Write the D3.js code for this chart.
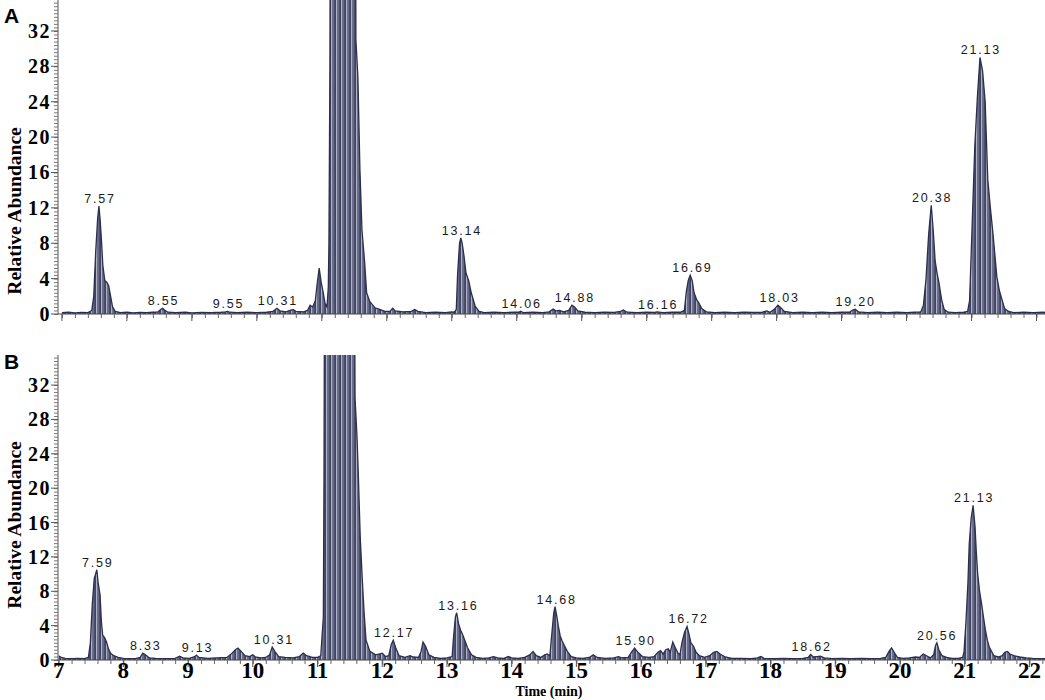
<!DOCTYPE html>
<html>
<head>
<meta charset="utf-8">
<script src="https://cdn.jsdelivr.net/npm/d3@7"></script>
<style>
  body { margin: 0; background: #fff; }
  svg { display: block; }
</style>
</head>
<body>
<div id="chart"></div>
<script>
const width = 1045
const height = 700

// retention time (min), relative abundance
const traceA = [
  [7.00, 0.15], [7.10, 0.2], [7.20, 0.12], [7.30, 0.18], [7.40, 0.15], [7.46, 0.4], [7.49, 2.0], [7.52, 7.0],
  [7.55, 10.8], [7.57, 12.2], [7.59, 10.5], [7.61, 8.2], [7.63, 5.5], [7.66, 3.8], [7.69, 3.6], [7.72, 3.2],
  [7.75, 2.0], [7.78, 0.8], [7.82, 0.3], [7.90, 0.15], [8.00, 0.2], [8.10, 0.12], [8.20, 0.18], [8.30, 0.15],
  [8.40, 0.2], [8.48, 0.25], [8.52, 0.5], [8.55, 0.65], [8.58, 0.45], [8.63, 0.2], [8.75, 0.15], [8.90, 0.2],
  [9.00, 0.12], [9.15, 0.18], [9.30, 0.15], [9.45, 0.2], [9.52, 0.25], [9.55, 0.3], [9.58, 0.2], [9.70, 0.15],
  [9.85, 0.2], [10.00, 0.15], [10.15, 0.2], [10.25, 0.3], [10.31, 0.65], [10.36, 0.35], [10.45, 0.25],
  [10.52, 0.45], [10.56, 0.5], [10.60, 0.3], [10.72, 0.25], [10.78, 0.4], [10.82, 1.0], [10.86, 0.8],
  [10.90, 1.5], [10.93, 3.5], [10.96, 5.2], [10.99, 3.6], [11.02, 2.5], [11.05, 1.2], [11.08, 0.8],
  [11.10, 3.0], [11.11, 8.0], [11.125, 28.0], [11.14, 80], [11.51, 80], [11.525, 31.0], [11.556, 26.7],
  [11.587, 16.3], [11.618, 9.5], [11.66, 5.8], [11.69, 2.4], [11.74, 1.4], [11.82, 0.7], [11.90, 0.5],
  [11.97, 0.3], [12.05, 0.3], [12.09, 0.65], [12.13, 0.35], [12.25, 0.25], [12.38, 0.3], [12.43, 0.5],
  [12.48, 0.3], [12.60, 0.15], [12.75, 0.2], [12.90, 0.15], [13.00, 0.25], [13.04, 0.2], [13.07, 0.5],
  [13.09, 4.5], [13.12, 8.0], [13.14, 8.6], [13.16, 8.0], [13.19, 6.5], [13.22, 4.6], [13.26, 3.8],
  [13.30, 2.4], [13.36, 0.9], [13.42, 0.3], [13.50, 0.15], [13.65, 0.2], [13.80, 0.15], [13.95, 0.2],
  [14.03, 0.2], [14.06, 0.3], [14.10, 0.15], [14.25, 0.2], [14.40, 0.15], [14.50, 0.25], [14.56, 0.55],
  [14.60, 0.35], [14.66, 0.4], [14.72, 0.25], [14.80, 0.4], [14.85, 1.0], [14.89, 0.8], [14.94, 0.35],
  [15.05, 0.2], [15.20, 0.15], [15.35, 0.2], [15.50, 0.18], [15.60, 0.3], [15.64, 0.45], [15.70, 0.2],
  [15.85, 0.15], [16.00, 0.2], [16.12, 0.18], [16.16, 0.25], [16.25, 0.15], [16.40, 0.2], [16.52, 0.2],
  [16.58, 0.4], [16.61, 2.5], [16.64, 3.8], [16.67, 4.4], [16.70, 3.8], [16.73, 2.4], [16.77, 1.6],
  [16.80, 1.3], [16.85, 0.6], [16.92, 0.25], [17.05, 0.15], [17.20, 0.2], [17.35, 0.15], [17.50, 0.2],
  [17.65, 0.18], [17.78, 0.2], [17.85, 0.35], [17.90, 0.2], [17.96, 0.5], [18.02, 1.0], [18.06, 0.75],
  [18.12, 0.3], [18.25, 0.15], [18.40, 0.2], [18.55, 0.15], [18.70, 0.2], [18.85, 0.15], [19.00, 0.2],
  [19.12, 0.2], [19.17, 0.45], [19.21, 0.55], [19.26, 0.25], [19.40, 0.15], [19.55, 0.2], [19.70, 0.15],
  [19.85, 0.2], [20.00, 0.15], [20.12, 0.2], [20.22, 0.25], [20.26, 1.0], [20.30, 4.0], [20.34, 9.0],
  [20.38, 12.3], [20.41, 9.5], [20.44, 6.0], [20.47, 4.6], [20.50, 3.5], [20.54, 1.6], [20.58, 0.5],
  [20.64, 0.2], [20.75, 0.15], [20.88, 0.2], [20.94, 0.3], [20.97, 1.5], [21.00, 8.0], [21.05, 18.9],
  [21.09, 24.5], [21.13, 29.0], [21.17, 27.5], [21.21, 24.0], [21.25, 15.2], [21.29, 12.0], [21.33, 9.1],
  [21.39, 4.2], [21.43, 2.6], [21.47, 1.6], [21.51, 0.6], [21.57, 0.3], [21.65, 0.15], [21.80, 0.2],
  [21.95, 0.15], [22.10, 0.2], [22.25, 0.15]
]

const traceB = [
  [7.00, 0.5], [7.04, 0.3], [7.10, 0.2], [7.20, 0.15], [7.30, 0.2], [7.40, 0.15], [7.46, 0.3], [7.49, 2.0],
  [7.52, 6.5], [7.55, 9.5], [7.57, 10.0], [7.59, 10.5], [7.61, 9.0], [7.64, 7.6], [7.66, 4.5], [7.68, 2.9],
  [7.71, 2.6], [7.74, 2.1], [7.77, 1.3], [7.80, 0.8], [7.85, 0.5], [7.92, 0.3], [8.00, 0.2], [8.10, 0.15],
  [8.20, 0.2], [8.26, 0.3], [8.30, 0.8], [8.34, 0.6], [8.40, 0.25], [8.50, 0.2], [8.65, 0.15], [8.80, 0.2],
  [8.87, 0.45], [8.92, 0.25], [9.02, 0.2], [9.09, 0.35], [9.13, 0.55], [9.17, 0.3], [9.30, 0.2], [9.45, 0.25],
  [9.60, 0.3], [9.68, 0.8], [9.73, 1.2], [9.77, 1.4], [9.82, 1.0], [9.88, 0.5], [9.95, 0.4], [10.00, 0.6],
  [10.04, 0.35], [10.12, 0.25], [10.20, 0.3], [10.26, 0.6], [10.30, 1.5], [10.34, 1.0], [10.40, 0.4],
  [10.50, 0.3], [10.62, 0.25], [10.72, 0.4], [10.78, 0.8], [10.83, 0.5], [10.92, 0.3], [11.00, 0.3],
  [11.05, 0.5], [11.09, 5.0], [11.10, 21.0], [11.12, 80], [11.55, 80], [11.58, 30.5], [11.61, 26.0],
  [11.63, 21.7], [11.66, 14.3], [11.69, 9.6], [11.72, 5.5], [11.75, 2.3], [11.81, 1.0], [11.90, 0.6],
  [11.96, 0.7], [12.00, 0.8], [12.05, 0.4], [12.10, 0.5], [12.14, 1.8], [12.17, 2.3], [12.21, 1.4],
  [12.26, 0.5], [12.35, 0.3], [12.43, 0.5], [12.48, 0.35], [12.56, 0.3], [12.60, 1.0], [12.63, 2.1],
  [12.67, 1.6], [12.72, 0.6], [12.80, 0.3], [12.90, 0.2], [13.00, 0.25], [13.08, 0.4], [13.10, 2.5],
  [13.13, 5.0], [13.15, 5.5], [13.18, 4.2], [13.21, 3.5], [13.24, 3.0], [13.28, 2.2], [13.32, 1.4],
  [13.38, 0.6], [13.45, 0.3], [13.55, 0.2], [13.65, 0.25], [13.72, 0.4], [13.78, 0.25], [13.88, 0.2],
  [13.95, 0.4], [14.00, 0.25], [14.10, 0.2], [14.20, 0.3], [14.28, 0.6], [14.33, 1.0], [14.38, 0.5],
  [14.45, 0.3], [14.51, 0.6], [14.55, 0.7], [14.59, 0.5], [14.62, 3.0], [14.65, 5.5], [14.67, 6.2],
  [14.70, 5.0], [14.72, 4.0], [14.75, 2.8], [14.78, 2.2], [14.82, 1.6], [14.86, 1.0], [14.92, 0.4],
  [15.00, 0.25], [15.10, 0.2], [15.20, 0.3], [15.26, 0.6], [15.32, 0.3], [15.45, 0.2], [15.58, 0.25],
  [15.65, 0.4], [15.70, 0.25], [15.80, 0.3], [15.86, 1.0], [15.90, 1.4], [15.95, 0.9], [16.02, 0.4],
  [16.12, 0.3], [16.20, 0.4], [16.26, 0.9], [16.30, 1.1], [16.34, 0.7], [16.38, 1.2], [16.42, 1.3],
  [16.45, 0.9], [16.49, 2.1], [16.53, 1.4], [16.57, 0.8], [16.60, 0.6], [16.63, 2.0], [16.67, 3.2],
  [16.71, 3.9], [16.74, 3.0], [16.77, 2.0], [16.81, 1.6], [16.85, 0.9], [16.90, 0.5], [16.98, 0.3],
  [17.06, 0.5], [17.12, 0.9], [17.17, 1.0], [17.22, 0.7], [17.30, 0.35], [17.40, 0.2], [17.55, 0.2],
  [17.70, 0.15], [17.80, 0.25], [17.85, 0.4], [17.90, 0.2], [18.05, 0.15], [18.20, 0.2], [18.35, 0.15],
  [18.50, 0.2], [18.58, 0.3], [18.62, 0.65], [18.66, 0.35], [18.72, 0.4], [18.77, 0.45], [18.83, 0.25],
  [18.95, 0.15], [19.10, 0.2], [19.25, 0.15], [19.40, 0.2], [19.55, 0.15], [19.70, 0.2], [19.78, 0.3],
  [19.83, 1.0], [19.87, 1.4], [19.91, 0.9], [19.96, 0.3], [20.05, 0.2], [20.15, 0.25], [20.24, 0.35],
  [20.30, 0.3], [20.36, 0.7], [20.41, 0.5], [20.47, 0.25], [20.52, 0.6], [20.55, 1.7], [20.57, 2.0],
  [20.60, 1.2], [20.65, 0.5], [20.72, 0.3], [20.80, 0.2], [20.90, 0.2], [20.97, 0.3], [20.99, 1.0],
  [21.02, 4.5], [21.05, 9.0], [21.07, 13.5], [21.10, 16.5], [21.13, 18.0], [21.16, 15.5], [21.18, 12.5],
  [21.20, 10.1], [21.23, 8.0], [21.26, 6.6], [21.29, 5.0], [21.32, 3.5], [21.35, 2.3], [21.38, 1.5],
  [21.45, 0.5], [21.52, 0.35], [21.58, 0.5], [21.62, 0.9], [21.66, 1.0], [21.70, 0.7], [21.76, 0.5],
  [21.85, 0.35], [21.95, 0.25], [22.05, 0.2], [22.25, 0.15]
]

const labelsA = ['7.57', '8.55', '9.55', '10.31', '13.14', '14.06', '14.88', '16.16', '16.69', '18.03', '19.20', '20.38', '21.13']
const labelsB = ['7.59', '8.33', '9.13', '10.31', '12.17', '13.16', '14.68', '15.90', '16.72', '18.62', '20.56', '21.13']

const yTicks = [0, 4, 8, 12, 16, 20, 24, 28, 32]
const xTicks = [7, 8, 9, 10, 11, 12, 13, 14, 15, 16, 17, 18, 19, 20, 21, 22]

const serif = "'Liberation Serif', 'Times New Roman', serif"
const sans = "'Liberation Sans', Arial, sans-serif"

const panels = [
  { key: 'A', trace: traceA, labels: labelsA, domainX: [6.94, 22.1], top: 0, base: 314, titleY: 211, letterY: 23, showX: false },
  { key: 'B', trace: traceB, labels: labelsB, domainX: [6.99, 22.21], top: 355, base: 660, titleY: 525, letterY: 369, showX: true }
]

const left = 58
const right = 1043

const svg = d3
  .select('#chart')
  .append('svg')
  .attr('width', width)
  .attr('height', height)

// striped fill like the scanned trace
const defs = svg.append('defs')
const pat = defs
  .append('pattern')
  .attr('id', 'stripes')
  .attr('patternUnits', 'userSpaceOnUse')
  .attr('width', 5)
  .attr('height', 10)
pat.append('rect').attr('width', 5).attr('height', 10).attr('fill', '#404463')
pat.append('rect').attr('x', 1).attr('width', 1.4).attr('height', 10).attr('fill', '#b0b3c6')
pat.append('rect').attr('x', 3.3).attr('width', 0.9).attr('height', 10).attr('fill', '#767a97')

panels.forEach(function (p) {
  const x = d3.scaleLinear().domain(p.domainX).range([left, right])
  const y = d3.scaleLinear().domain([0, 35.5]).range([p.base, p.top])

  const g = svg.append('g')

  defs
    .append('clipPath')
    .attr('id', 'clip' + p.key)
    .append('rect')
    .attr('x', left)
    .attr('y', p.top)
    .attr('width', width - left)
    .attr('height', p.base - p.top + 1)

  const area = d3
    .area()
    .x(function (d) { return x(d[0]) })
    .y0(y(0))
    .y1(function (d) { return y(d[1]) })

  const line = d3
    .line()
    .x(function (d) { return x(d[0]) })
    .y(function (d) { return y(d[1]) })

  const plot = g.append('g').attr('clip-path', 'url(#clip' + p.key + ')')
  plot
    .append('path')
    .datum(p.trace)
    .attr('d', area)
    .attr('fill', 'url(#stripes)')
  plot
    .append('path')
    .datum(p.trace)
    .attr('d', line)
    .attr('fill', 'none')
    .attr('stroke', '#2b2e4c')
    .attr('stroke-width', 1.3)

  // y axis with minor ticks
  const yAxis = g
    .append('g')
    .attr('transform', 'translate(' + left + ',0)')
    .call(
      d3.axisLeft(y)
        .tickValues(d3.range(0, 35.3, 0.4))
        .tickSize(4)
        .tickFormat('')
    )
  yAxis.select('.domain').attr('stroke', '#555').attr('d', 'M0,' + p.base + 'V' + p.top)
  yAxis.selectAll('.tick line').attr('stroke', '#777')

  g.append('g')
    .selectAll('line')
    .data(yTicks)
    .enter()
    .append('line')
    .attr('x1', left - 7)
    .attr('x2', left)
    .attr('y1', function (d) { return y(d) })
    .attr('y2', function (d) { return y(d) })
    .attr('stroke', '#555')

  g.append('g')
    .selectAll('text')
    .data(yTicks)
    .enter()
    .append('text')
    .attr('x', 51)
    .attr('y', function (d) { return y(d) })
    .attr('dy', '0.35em')
    .attr('text-anchor', 'end')
    .style('font-family', serif)
    .style('font-weight', 'bold')
    .style('font-size', '20px')
    .style('letter-spacing', '1.5px')
    .text(function (d) { return d })

  // x axis with minor ticks
  const xAxis = g
    .append('g')
    .attr('transform', 'translate(0,' + p.base + ')')
    .call(
      d3.axisBottom(x)
        .tickValues(d3.range(7, 22.3, 0.2))
        .tickSize(4)
        .tickFormat('')
    )
  xAxis.select('.domain').attr('stroke', '#444').attr('d', 'M' + left + ',0H' + width)
  xAxis.selectAll('.tick line').attr('stroke', '#666')

  g.append('g')
    .selectAll('line')
    .data(xTicks)
    .enter()
    .append('line')
    .attr('x1', function (d) { return x(d) })
    .attr('x2', function (d) { return x(d) })
    .attr('y1', p.base)
    .attr('y2', p.base + 7)
    .attr('stroke', '#555')

  if (p.showX) {
    g.append('g')
      .selectAll('text')
      .data(xTicks)
      .enter()
      .append('text')
      .attr('x', function (d) { return x(d) })
      .attr('y', p.base + 18)
      .attr('text-anchor', 'middle')
      .style('font-family', serif)
      .style('font-weight', 'bold')
      .style('font-size', '23px')
      .text(function (d) { return d })

    g.append('text')
      .attr('x', 549)
      .attr('y', 696)
      .attr('text-anchor', 'middle')
      .style('font-family', serif)
      .style('font-weight', 'bold')
      .style('font-size', '14px')
      .text('Time (min)')
  }

  // peak labels sit just above the local maximum
  g.append('g')
    .selectAll('text')
    .data(p.labels)
    .enter()
    .append('text')
    .attr('x', function (d) { return x(+d) + 1 })
    .attr('y', function (d) {
      const near = p.trace.filter(function (pt) { return Math.abs(pt[0] - +d) < 0.04 })
      return y(d3.max(near, function (pt) { return pt[1] })) - 3
    })
    .attr('text-anchor', 'middle')
    .style('font-family', sans)
    .style('font-size', '12.5px')
    .style('letter-spacing', '1.8px')
    .style('fill', '#1a1a1a')
    .text(function (d) { return d })

  g.append('text')
    .attr('transform', 'translate(21,' + p.titleY + ') rotate(-90)')
    .attr('text-anchor', 'middle')
    .style('font-family', serif)
    .style('font-weight', 'bold')
    .style('font-size', '19.5px')
    .text('Relative Abundance')

  g.append('text')
    .attr('x', 4)
    .attr('y', p.letterY)
    .style('font-family', sans)
    .style('font-weight', 'bold')
    .style('font-size', '21px')
    .text(p.key)
})
</script>
</body>
</html>
